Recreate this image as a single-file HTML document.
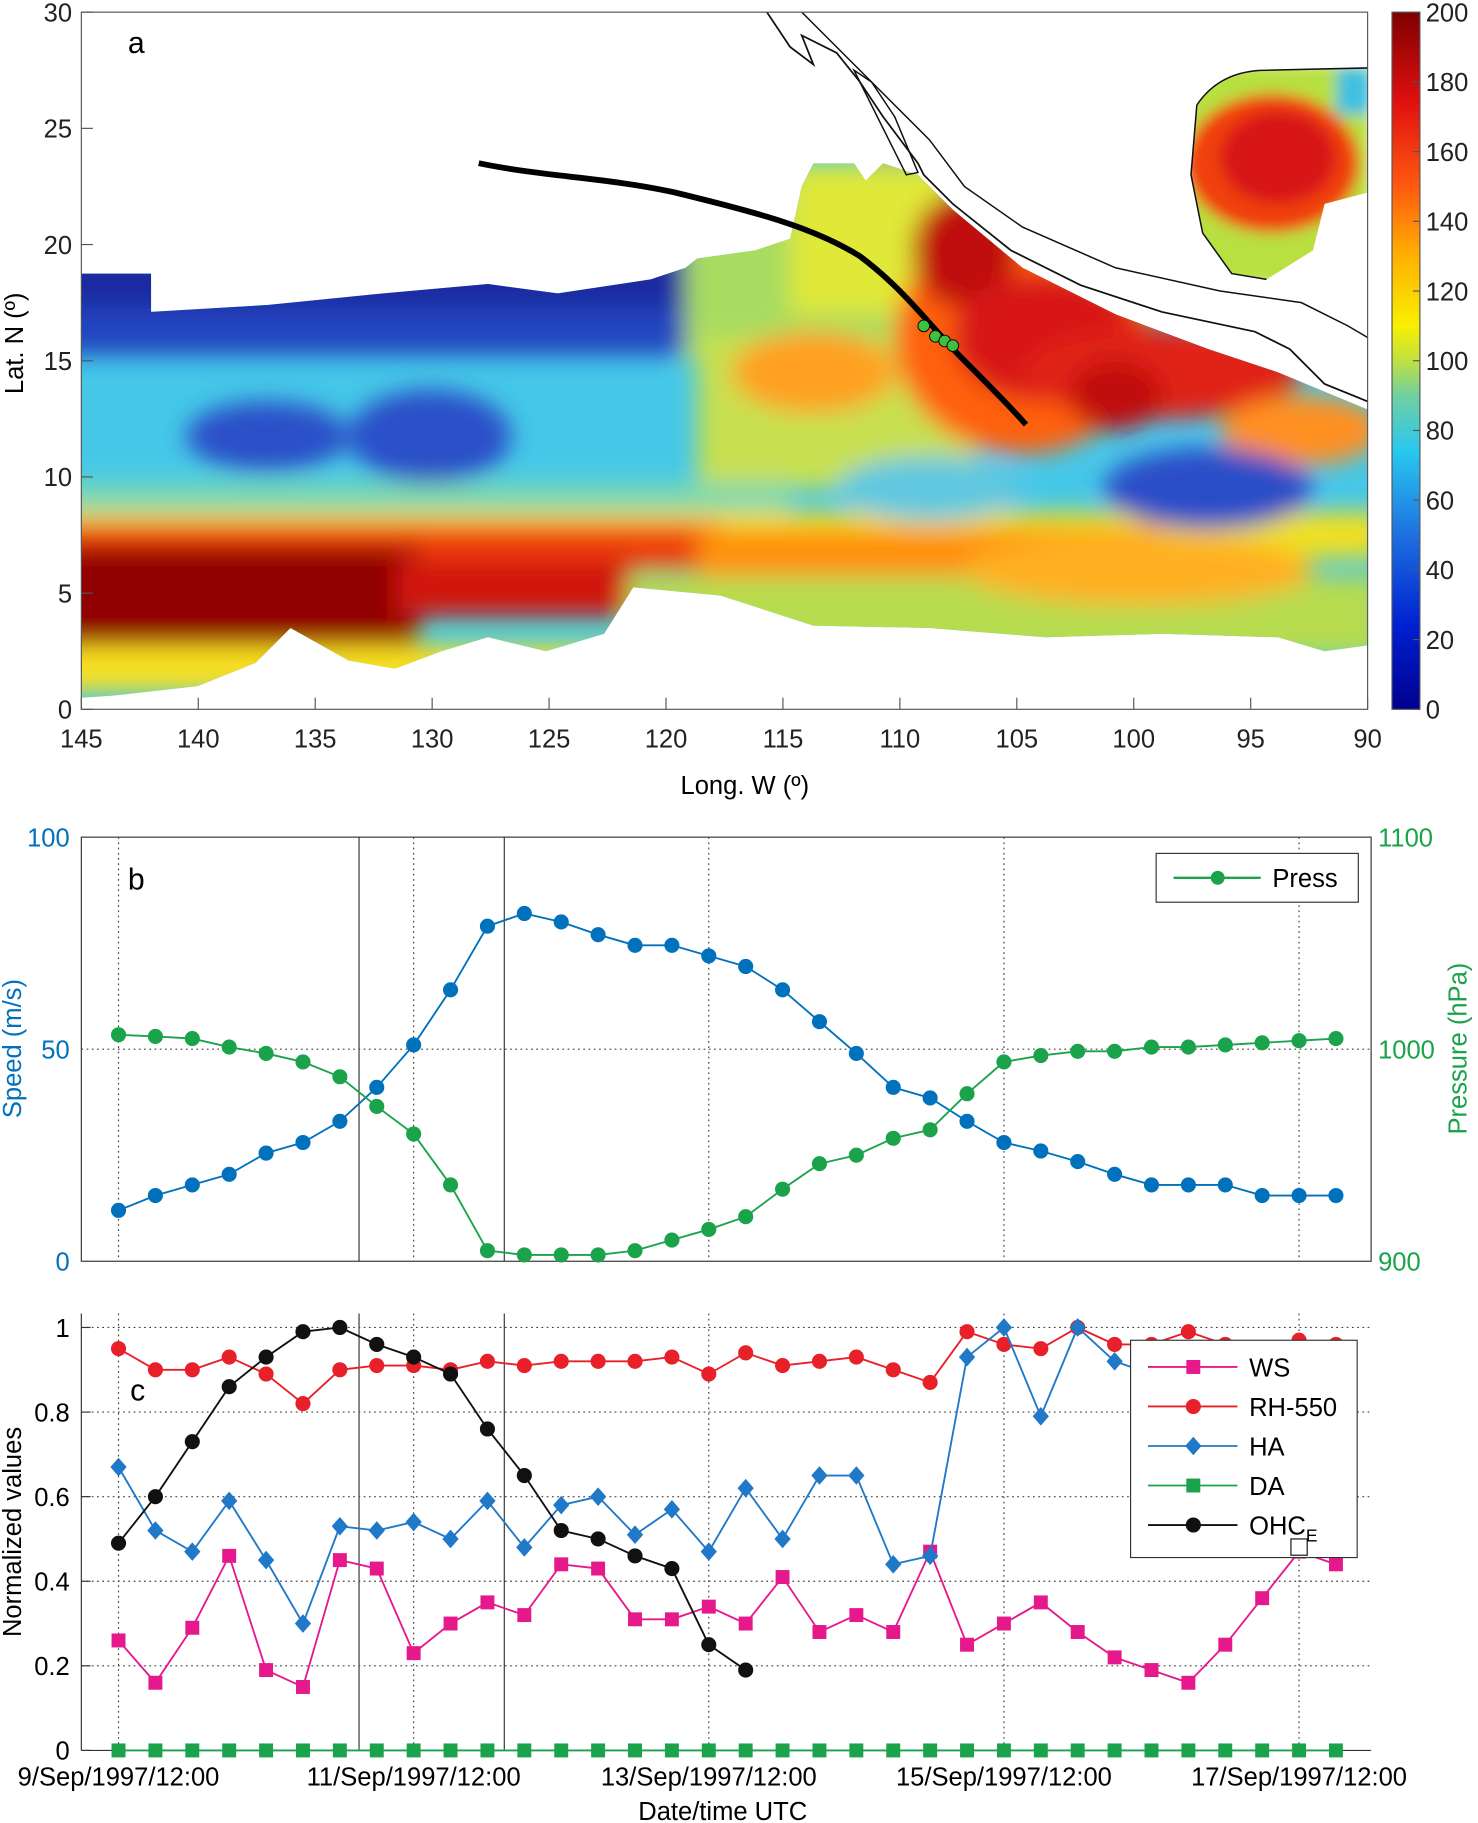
<!DOCTYPE html>
<html><head><meta charset="utf-8"><style>
html,body{margin:0;padding:0;background:#fff;}
svg{display:block;font-family:"Liberation Sans",Arial,sans-serif;}
</style></head><body>
<svg id="fig" width="1478" height="1823" viewBox="0 0 1272 1568" xmlns="http://www.w3.org/2000/svg">
<defs>
<filter id="blur" filterUnits="userSpaceOnUse" x="0" y="0" width="1272" height="700"><feGaussianBlur stdDeviation="10"/></filter>
<filter id="blur2" filterUnits="userSpaceOnUse" x="1000" y="30" width="200" height="240"><feGaussianBlur stdDeviation="6"/></filter>
<clipPath id="cov"><path d="M70,235 L130,235 L130,268 L230,262 L330,252 L420,244 L480,252 L560,240 L590,230 L600,222 L650,215 L680,205 L690,160 L700,140 L735,140 L745,155 L760,140 L790,150 L820,180 L880,230 L960,270 L1040,300 L1100,320 L1177,352 L1177,555 L1140,560 L1100,548 L1000,545 L900,548 L800,540 L700,538 L620,512 L545,505 L520,545 L470,560 L420,548 L380,560 L340,575 L300,568 L250,540 L220,570 L170,590 L100,598 L70,600 Z"/></clipPath>
<clipPath id="inset"><path d="M1030,90 Q1050,60 1090,60 L1178,58 L1178,165 L1140,175 L1130,215 L1090,240 L1060,235 L1035,200 L1025,150 Z"/></clipPath>
<clipPath id="plotA"><rect x="70" y="10" width="1107" height="600"/></clipPath>
<linearGradient id="jet" x1="0" y1="1" x2="0" y2="0">
<stop offset="0" stop-color="#00008f"/><stop offset="0.12" stop-color="#0020d0"/><stop offset="0.25" stop-color="#1e70e0"/><stop offset="0.37" stop-color="#28c8f0"/><stop offset="0.45" stop-color="#70d0a0"/><stop offset="0.5" stop-color="#c0e040"/><stop offset="0.55" stop-color="#f8f000"/><stop offset="0.65" stop-color="#ffb000"/><stop offset="0.75" stop-color="#ff5a10"/><stop offset="0.87" stop-color="#e01010"/><stop offset="1" stop-color="#800000"/></linearGradient>
</defs>

<g clip-path="url(#plotA)">
<g clip-path="url(#cov)">
<rect x="60" y="100" width="1130" height="520" fill="#45c8e8"/>
<g filter="url(#blur)">
<rect x="40" y="215" width="570" height="90" fill="#2244c0"/>
<rect x="40" y="215" width="570" height="50" fill="#1e2aa0"/>
<rect x="590" y="160" width="230" height="150" fill="#a8dc60"/>
<rect x="680" y="140" width="140" height="130" fill="#e0e838"/>
<rect x="600" y="290" width="240" height="130" fill="#c8e050"/>
<ellipse cx="700" cy="320" rx="70" ry="35" fill="#ffa020"/>
<ellipse cx="230" cy="375" rx="70" ry="30" fill="#2a50c8"/>
<ellipse cx="370" cy="375" rx="70" ry="40" fill="#2a50c8"/>
<rect x="40" y="415" width="640" height="45" fill="#7cd8b0"/>
<rect x="40" y="440" width="1150" height="40" fill="#f0e020"/>
<rect x="40" y="450" width="580" height="40" fill="#f04010"/>
<rect x="600" y="455" width="400" height="40" fill="#ff9010"/>
<rect x="40" y="470" width="320" height="100" fill="#900000"/>
<rect x="340" y="480" width="200" height="50" fill="#d01808"/>
<rect x="40" y="555" width="540" height="40" fill="#f8e020"/>
<rect x="540" y="495" width="650" height="70" fill="#b8dc50"/>
<ellipse cx="880" cy="290" rx="110" ry="100" fill="#ff6010"/>
<ellipse cx="830" cy="215" rx="45" ry="50" fill="#c01010"/>
<ellipse cx="900" cy="290" rx="80" ry="55" fill="#d81818"/>
<ellipse cx="1000" cy="320" rx="120" ry="40" fill="#e02018"/>
<ellipse cx="960" cy="340" rx="40" ry="30" fill="#c01010"/>
<ellipse cx="1120" cy="370" rx="70" ry="30" fill="#ff9020"/>
<ellipse cx="1040" cy="420" rx="90" ry="35" fill="#2a4ec8"/>
<ellipse cx="800" cy="420" rx="80" ry="28" fill="#60c8e0"/>
<ellipse cx="980" cy="490" rx="150" ry="30" fill="#ffb020"/>
<ellipse cx="760" cy="95" rx="30" ry="40" fill="#ff6010"/>
</g>
</g>
<g clip-path="url(#inset)">
<g filter="url(#blur2)">
<rect x="1020" y="55" width="160" height="190" fill="#b8e040"/>
<ellipse cx="1095" cy="140" rx="75" ry="60" fill="#f04010"/>
<ellipse cx="1100" cy="135" rx="50" ry="40" fill="#d81818"/>
<rect x="1150" y="58" width="30" height="40" fill="#40c0e0"/>
</g>
</g>
<path d="M660,10 L680,40 L700,55 L690,30 L720,45 L740,70 L760,100 L790,140 L795,150 L820,175 L870,215 L930,245 L1000,268 L1080,285 L1110,300 L1140,330 L1177,345" fill="none" stroke="#111" stroke-width="1.5"/>
<path d="M690,10 L720,40 L760,80 L800,120 L830,160 L880,195 L960,230 L1050,250 L1120,260 L1160,280 L1177,290" fill="none" stroke="#111" stroke-width="1.3"/>
<path d="M735,60 L760,110 L780,150 L790,148 L770,100 L750,70 Z" fill="none" stroke="#111" stroke-width="1.3"/>
<path d="M1030,90 Q1050,60 1090,60 L1178,58 M1030,90 L1025,150 L1035,200 L1060,235 L1090,240" fill="none" stroke="#111" stroke-width="1.3"/>
<path d="M412,140 C470,152 520,152 580,165 C650,182 700,195 740,220 C780,250 800,280 830,310 C850,330 870,350 883,365" fill="none" stroke="#000" stroke-width="5"/>
<circle cx="795" cy="280" r="5" fill="#40c040" stroke="#000" stroke-width="0.8"/>
<circle cx="805" cy="289" r="5" fill="#40c040" stroke="#000" stroke-width="0.8"/>
<circle cx="813" cy="293" r="5" fill="#40c040" stroke="#000" stroke-width="0.8"/>
<circle cx="820" cy="297" r="5" fill="#40c040" stroke="#000" stroke-width="0.8"/>
</g>
<rect x="70" y="10" width="1107" height="600" fill="none" stroke="#555" stroke-width="1"/>
<text x="110" y="45" font-size="26">a</text>
<g id="axA" font-size="22" fill="#222"></g>
<text x="641" y="683" font-size="22" text-anchor="middle">Long. W (º)</text>
<text transform="translate(20,295) rotate(-90)" font-size="22" text-anchor="middle">Lat. N (º)</text>
<rect x="1198" y="10" width="24" height="600" fill="url(#jet)" stroke="#555"/>
<g id="cbTicks" font-size="22" fill="#222"></g>

<rect x="70" y="720" width="1110" height="365" fill="none" stroke="#333"/>
<g id="panelB"></g>
<text x="110" y="765" font-size="26">b</text>
<text transform="translate(18,902) rotate(-90)" font-size="22" fill="#0072bd" text-anchor="middle">Speed (m/s)</text>
<text transform="translate(1262,902) rotate(-90)" font-size="22" fill="#1aa34a" text-anchor="middle">Pressure (hPa)</text>
<g>
<rect x="995" y="734" width="174" height="42" fill="#fff" stroke="#333"/>
<line x1="1010" y1="755" x2="1085" y2="755" stroke="#1aa34a" stroke-width="2"/>
<circle cx="1048" cy="755" r="6" fill="#1aa34a"/>
<text x="1095" y="763" font-size="22">Press</text>
</g>

<line x1="70" y1="1130" x2="70" y2="1506" stroke="#333"/>
<line x1="70" y1="1506" x2="1180" y2="1506" stroke="#333"/>
<g id="panelC"></g>
<text x="112" y="1205" font-size="26">c</text>
<text transform="translate(18,1318) rotate(-90)" font-size="22" text-anchor="middle">Normalized values</text>
<text x="622" y="1566" font-size="22" text-anchor="middle">Date/time UTC</text>
<g id="legendC"></g>
</svg>
<script>
const NS="http://www.w3.org/2000/svg";
const lonTicks=[145,140,135,130,125,120,115,110,105,100,95,90];
const latTicks=[0,5,10,15,20,25,30];
const cbLabels=[0,20,40,60,80,100,120,140,160,180,200];
const dateLabels=["9/Sep/1997/12:00","11/Sep/1997/12:00","13/Sep/1997/12:00","15/Sep/1997/12:00","17/Sep/1997/12:00"];
const speedTicks=[0,50,100];
const pressTicks=[900,1000,1100];
const normTicks=[0,0.2,0.4,0.6,0.8,1];
const speed=[12,15.5,18,20.5,25.5,28,33,41,51,64,79,82,80,77,74.5,74.5,72,69.5,64,56.5,49,41,38.5,33,28,26,23.5,20.5,18,18,18,15.5,15.5,15.5];
const press=[1006.8,1006,1005,1001,998,994,987,973,960,936,905,903,903,903,905,910,915,921,934,946,950,958,962,979,994,997,999,999,1001,1001,1002,1003,1004,1005];
const ws=[.26,.16,.29,.46,.19,.15,.45,.43,.23,.30,.35,.32,.44,.43,.31,.31,.34,.30,.41,.28,.32,.28,.47,.25,.30,.35,.28,.22,.19,.16,.25,.36,.47,.44];
const rh=[.95,.90,.90,.93,.89,.82,.90,.91,.91,.90,.92,.91,.92,.92,.92,.93,.89,.94,.91,.92,.93,.90,.87,.99,.96,.95,1.0,.96,.96,.99,.96,.95,.97,.96];
const ha=[.67,.52,.47,.59,.45,.30,.53,.52,.54,.50,.59,.48,.58,.60,.51,.57,.47,.62,.50,.65,.65,.44,.46,.93,1.0,.79,1.0,.92,.89,.88,.87,.9,.9,.9];
const da=[0,0,0,0,0,0,0,0,0,0,0,0,0,0,0,0,0,0,0,0,0,0,0,0,0,0,0,0,0,0,0,0,0,0];
const ohc=[.49,.60,.73,.86,.93,.99,1.0,.96,.93,.89,.76,.65,.52,.50,.46,.43,.25,.19];

const xLon=l=>70+(145-l)*(1107/55);
const yLat=l=>610-l*20;
const xT=i=>102+i*31.75;
const ySpd=v=>1085-v*3.65;
const yPr=v=>1085-(v-900)*1.825;
const yN=v=>1506-v*364;
const C={b:"#0072bd",g:"#1aa34a",m:"#e6198c",r:"#e8202a",h:"#1f78c8",k:"#111"};

function mk(tag,attrs,parent){const e=document.createElementNS(NS,tag);for(const k in attrs)e.setAttribute(k,attrs[k]);parent.appendChild(e);return e;}
const axA=document.getElementById('axA');
lonTicks.forEach(l=>{const x=xLon(l);
 mk('line',{x1:x,y1:610,x2:x,y2:600,stroke:'#555'},axA);
 const t=mk('text',{x:x,y:643,'text-anchor':'middle'},axA);t.textContent=l;
 
 });
latTicks.forEach(l=>{const y=yLat(l);
 mk('line',{x1:70,y1:y,x2:80,y2:y,stroke:'#555'},axA);
 const t=mk('text',{x:62,y:y+8,'text-anchor':'end'},axA);t.textContent=l;
 
 });
const cb=document.getElementById('cbTicks');
cbLabels.forEach(v=>{const y=610-v*3;
 mk('line',{x1:1216,y1:y,x2:1222,y2:y,stroke:'#555'},cb);
 const t=mk('text',{x:1227,y:y+8},cb);t.textContent=v;
 
 });

const pb=document.getElementById('panelB');
dateLabels.forEach((d,i)=>{const x=xT(i*8);
 mk('line',{x1:x,y1:720,x2:x,y2:1085,stroke:'#444','stroke-dasharray':'1.5,3'},pb);
 mk('line',{x1:x,y1:1130,x2:x,y2:1506,stroke:'#444','stroke-dasharray':'1.5,3'},pb);
 const t=mk('text',{x:x,y:1536,'text-anchor':'middle','font-size':22},pb);t.textContent=d;
 
 });
[309,434].forEach(x=>{mk('line',{x1:x,y1:720,x2:x,y2:1085,stroke:'#333'},pb);mk('line',{x1:x,y1:1130,x2:x,y2:1506,stroke:'#333'},pb);});
mk('line',{x1:70,y1:ySpd(50),x2:1180,y2:ySpd(50),stroke:'#444','stroke-dasharray':'1.5,3'},pb);
speedTicks.forEach(v=>{const t=mk('text',{x:60,y:ySpd(v)+8,'text-anchor':'end','font-size':22,fill:C.b},pb);t.textContent=v;
 
 });
pressTicks.forEach(v=>{const t=mk('text',{x:1186,y:yPr(v)+8,'font-size':22,fill:C.g},pb);t.textContent=v;
 
 });
function series(par,arr,yf,col,shape,name){
 const g=mk('g',{},par);
 
 
 mk('polyline',{points:arr.map((v,i)=>xT(i)+','+yf(v)).join(' '),fill:'none',stroke:col,'stroke-width':1.6},g);
 arr.forEach((v,i)=>{const x=xT(i),y=yf(v);let e;
  if(shape==='c')e=mk('circle',{cx:x,cy:y,r:6.5,fill:col},g);
  else if(shape==='s')e=mk('rect',{x:x-6,y:y-6,width:12,height:12,fill:col},g);
  else e=mk('path',{d:`M${x},${y-8}L${x+7},${y}L${x},${y+8}L${x-7},${y}Z`,fill:col},g);
  
  });
}
series(pb,speed,ySpd,C.b,'c','speed-series');
series(pb,press,yPr,C.g,'c','pressure-series');

const pc=document.getElementById('panelC');
normTicks.forEach(v=>{const y=yN(v);
 if(v>0)mk('line',{x1:70,y1:y,x2:1180,y2:y,stroke:'#444','stroke-dasharray':'1.5,3'},pc);
 mk('line',{x1:70,y1:y,x2:78,y2:y,stroke:'#333'},pc);
 const t=mk('text',{x:60,y:y+8,'text-anchor':'end','font-size':22},pc);t.textContent=v;
 
 });
series(pc,da,yN,C.g,'s','da-series');
series(pc,ws,yN,C.m,'s','ws-series');
series(pc,rh,yN,C.r,'c','rh550-series');
series(pc,ha,yN,C.h,'d','ha-series');
series(pc,ohc,yN,C.k,'c','ohc-series');

const lg=document.getElementById('legendC');


mk('rect',{x:973,y:1153,width:195,height:187,fill:'#fff',stroke:'#333'},lg);
[["WS",C.m,'s'],["RH-550",C.r,'c'],["HA",C.h,'d'],["DA",C.g,'s'],["OHC",C.k,'c']].forEach((e,i)=>{
 const y=1176+i*34;
 mk('line',{x1:988,y1:y,x2:1065,y2:y,stroke:e[1],'stroke-width':1.6},lg);
 if(e[2]==='c')mk('circle',{cx:1027,cy:y,r:6.5,fill:e[1]},lg);
 else if(e[2]==='s')mk('rect',{x:1021,y:y-6,width:12,height:12,fill:e[1]},lg);
 else mk('path',{d:`M1027,${y-8}L1034,${y}L1027,${y+8}L1020,${y}Z`,fill:e[1]},lg);
 const t=mk('text',{x:1075,y:y+8,'font-size':22},lg);t.textContent=e[0];
 
 
 if(e[0]==="OHC"){const s=mk('tspan',{'font-size':15,dy:6},t);s.textContent="E";
  mk('rect',{x:1111,y:y+12,width:14,height:14,fill:'none',stroke:'#111'},lg);}
});
</script>
</body></html>
